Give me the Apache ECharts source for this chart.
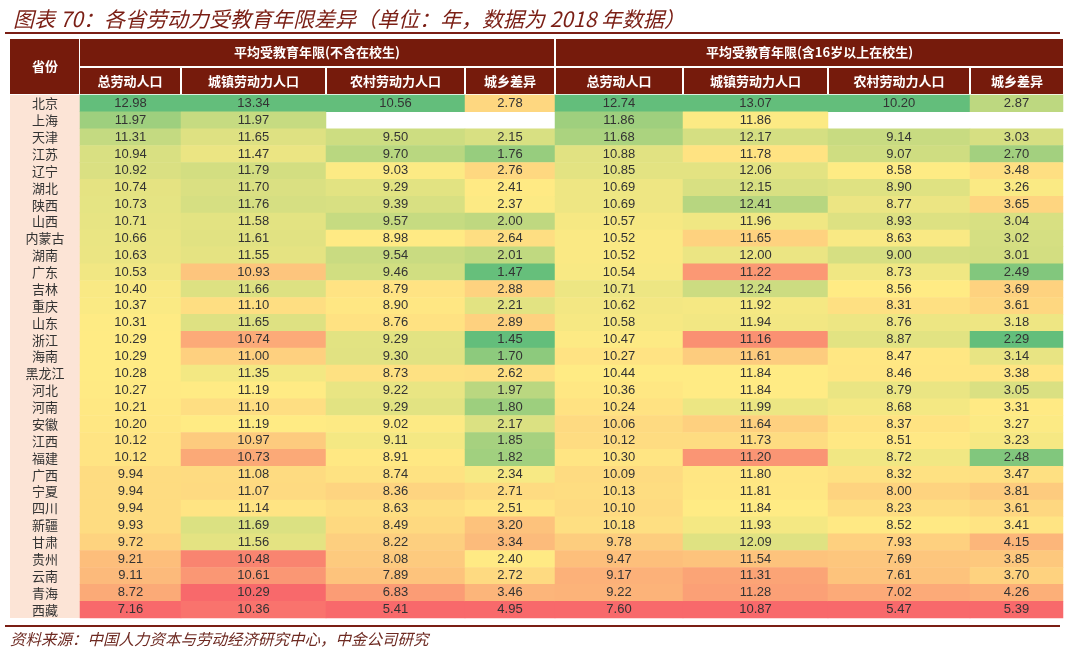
<!DOCTYPE html>
<html><head><meta charset="utf-8">
<script src="https://cdn.jsdelivr.net/npm/echarts@6/dist/echarts.min.js"></script>
<style>html,body{margin:0;padding:0;background:#fff}#c{width:1080px;height:651px}</style>
</head><body><div id="c"></div>
<script>
// ---------- DATA ----------
const provinces = ['北京','上海','天津','江苏','辽宁','湖北','陕西','山西','内蒙古','湖南','广东','吉林','重庆','山东','浙江','海南','黑龙江','河北','河南','安徽','江西','福建','广西','宁夏','四川','新疆','甘肃','贵州','云南','青海','西藏'];
const groupTitles = ['平均受教育年限(不含在校生)','平均受教育年限(含16岁以上在校生)'];
const columnTitles = ['总劳动人口','城镇劳动力人口','农村劳动力人口','城乡差异','总劳动人口','城镇劳动力人口','农村劳动力人口','城乡差异'];
const exTotal = [12.98,11.97,11.31,10.94,10.92,10.74,10.73,10.71,10.66,10.63,10.53,10.40,10.37,10.31,10.29,10.29,10.28,10.27,10.21,10.20,10.12,10.12,9.94,9.94,9.94,9.93,9.72,9.21,9.11,8.72,7.16];
const exUrban = [13.34,11.97,11.65,11.47,11.79,11.70,11.76,11.58,11.61,11.55,10.93,11.66,11.10,11.65,10.74,11.00,11.35,11.19,11.10,11.19,10.97,10.73,11.08,11.07,11.14,11.69,11.56,10.48,10.61,10.29,10.36];
const exRural = [10.56,null,9.50,9.70,9.03,9.29,9.39,9.57,8.98,9.54,9.46,8.79,8.90,8.76,9.29,9.30,8.73,9.22,9.29,9.02,9.11,8.91,8.74,8.36,8.63,8.49,8.22,8.08,7.89,6.83,5.41];
const exGap = [2.78,null,2.15,1.76,2.76,2.41,2.37,2.00,2.64,2.01,1.47,2.88,2.21,2.89,1.45,1.70,2.62,1.97,1.80,2.17,1.85,1.82,2.34,2.71,2.51,3.20,3.34,2.40,2.72,3.46,4.95];
const inTotal = [12.74,11.86,11.68,10.88,10.85,10.69,10.69,10.57,10.52,10.52,10.54,10.71,10.62,10.58,10.47,10.27,10.44,10.36,10.24,10.06,10.12,10.30,10.09,10.13,10.10,10.18,9.78,9.47,9.17,9.22,7.60];
const inUrban = [13.07,11.86,12.17,11.78,12.06,12.15,12.41,11.96,11.65,12.00,11.22,12.24,11.92,11.94,11.16,11.61,11.84,11.84,11.99,11.64,11.73,11.20,11.80,11.81,11.84,11.93,12.09,11.54,11.31,11.28,10.87];
const inRural = [10.20,null,9.14,9.07,8.58,8.90,8.77,8.93,8.63,9.00,8.73,8.56,8.31,8.76,8.87,8.47,8.46,8.79,8.68,8.37,8.51,8.72,8.32,8.00,8.23,8.52,7.93,7.69,7.61,7.02,5.47];
const inGap = [2.87,null,3.03,2.70,3.48,3.26,3.65,3.04,3.02,3.01,2.49,3.69,3.61,3.18,2.29,3.14,3.38,3.05,3.31,3.27,3.23,2.48,3.47,3.81,3.61,3.41,4.15,3.85,3.70,4.26,5.39];
const columns = [exTotal, exUrban, exRural, exGap, inTotal, inUrban, inRural, inGap];
const lowerIsBetter = [false,false,false,true,false,false,false,true];

// ---------- LAYOUT / STYLE ----------
const colEdges = [80,181,326,465,555,683,828,970,1063];
const provLeft = 10;
const hdrTop = 39, hdr1H = 27, hdr2Top = 68, hdr2H = 26;
const dataTop = 95, dataBottom = 618;
const HDR = '#761B0C';
const RED = [248,105,107], YEL = [255,235,132], GRN = [99,190,123];

function lerp(a,b,t){return a.map((v,i)=>Math.round(v+(b[i]-v)*t));}
function median(arr){const s=arr.slice().sort((a,b)=>a-b);const n=s.length;return n%2?s[(n-1)/2]:(s[n/2-1]+s[n/2])/2;}
function colorFor(v, vals, rev){
  const mn=Math.min(...vals), mx=Math.max(...vals), md=median(vals);
  const lo = rev ? GRN : RED, hi = rev ? RED : GRN;
  let c;
  if (v<=md) c = lerp(lo, YEL, md===mn?1:(v-mn)/(md-mn));
  else c = lerp(YEL, hi, mx===md?1:(v-md)/(mx-md));
  return 'rgb('+c.join(',')+')';
}

const grids=[], xAxes=[], yAxes=[], series=[];
columns.forEach((col, ci)=>{
  const vals = col.filter(v=>v!==null);
  grids.push({left: colEdges[ci], width: colEdges[ci+1]-colEdges[ci], top: dataTop, height: dataBottom-dataTop});
  xAxes.push({type:'category', gridIndex: ci, data:[columnTitles[ci]], show:false});
  yAxes.push({type:'category', gridIndex: ci, data: provinces, inverse:true, show:false});
  series.push({
    type:'heatmap', xAxisIndex: ci, yAxisIndex: ci,
    data: col.map((v,ri)=> v===null ? null : ({value:[0, ri, v], itemStyle:{color: colorFor(v, vals, lowerIsBetter[ci])}})).filter(d=>d),
    label:{show:true, formatter: p=>p.value[2].toFixed(2), color:'#333', fontSize:13, fontFamily:'Liberation Sans, Arial, sans-serif'},
    itemStyle:{borderWidth:0},
    emphasis:{disabled:true}, silent:true, animation:false
  });
});
// province column
grids.push({left: provLeft, width: colEdges[0]-provLeft, top: dataTop, height: dataBottom-dataTop, show:true, backgroundColor:'#FCE4D6', borderWidth:0});
xAxes.push({type:'category', gridIndex: 8, data:['省份'], show:false});
yAxes.push({type:'category', gridIndex: 8, data: provinces, inverse:true,
  axisLine:{show:false}, axisTick:{show:false}, splitLine:{show:false},
  axisLabel:{inside:true, interval:0, margin:(colEdges[0]-provLeft)/2, align:'center', color:'#333', fontSize:13, fontFamily:'Noto Sans CJK SC'}});

// header graphics
const g = [];
g.push({type:'rect', shape:{x:provLeft, y:hdrTop, width:colEdges[0]-provLeft-1, height:hdr2Top+hdr2H-hdrTop}, style:{fill:HDR}});
g.push({type:'text', x:(provLeft+colEdges[0])/2, y:hdrTop+(hdr2Top+hdr2H-hdrTop)/2, style:{text:'省份', fill:'#fff', font:'bold 13px "Noto Sans CJK SC"', textAlign:'center', textVerticalAlign:'middle'}});
[[0,4],[4,8]].forEach(([a,b],gi)=>{
  const x0 = colEdges[a]+ (gi?1:0), x1 = colEdges[b] - (gi?0:1);
  g.push({type:'rect', shape:{x:x0, y:hdrTop, width:x1-x0, height:hdr1H}, style:{fill:HDR}});
  g.push({type:'text', x:(x0+x1)/2, y:hdrTop+hdr1H/2, style:{text:groupTitles[gi], fill:'#fff', font:'bold 13px "Noto Sans CJK SC"', textAlign:'center', textVerticalAlign:'middle'}});
});
columnTitles.forEach((t,ci)=>{
  const x0 = colEdges[ci] + (ci===0?0:1), x1 = colEdges[ci+1] - (ci===7?0:1);
  g.push({type:'rect', shape:{x:x0, y:hdr2Top, width:x1-x0, height:hdr2H}, style:{fill:HDR}});
  g.push({type:'text', x:(x0+x1)/2, y:hdr2Top+hdr2H/2, style:{text:t, fill:'#fff', font:'bold 13px "Noto Sans CJK SC"', textAlign:'center', textVerticalAlign:'middle'}});
});
// rules
g.push({type:'rect', shape:{x:5, y:32, width:1055, height:2}, style:{fill:'#7A1E14'}});
g.push({type:'rect', shape:{x:5, y:625, width:1055, height:2}, style:{fill:'#7A1E14'}});
// footer
g.push({type:'text', x:10, y:639, style:{text:'资料来源：中国人力资本与劳动经济研究中心，中金公司研究', fill:'#6E2A22', font:'italic 15.5px "Noto Sans CJK SC"', textVerticalAlign:'middle'}});

const chart = echarts.init(document.getElementById('c'), null, {renderer:'canvas'});
chart.setOption({
  animation:false,
  backgroundColor:'#fff',
  title:{text:'图表 70：各省劳动力受教育年限差异（单位：年，数据为 2018 年数据）', left:8, top:4,
    textStyle:{color:'#7A1E14', fontSize:21, fontStyle:'italic', fontWeight:'normal', fontFamily:'"Noto Sans CJK SC"'}},
  grid: grids, xAxis: xAxes, yAxis: yAxes, series: series,
  graphic: g
});
</script></body></html>
